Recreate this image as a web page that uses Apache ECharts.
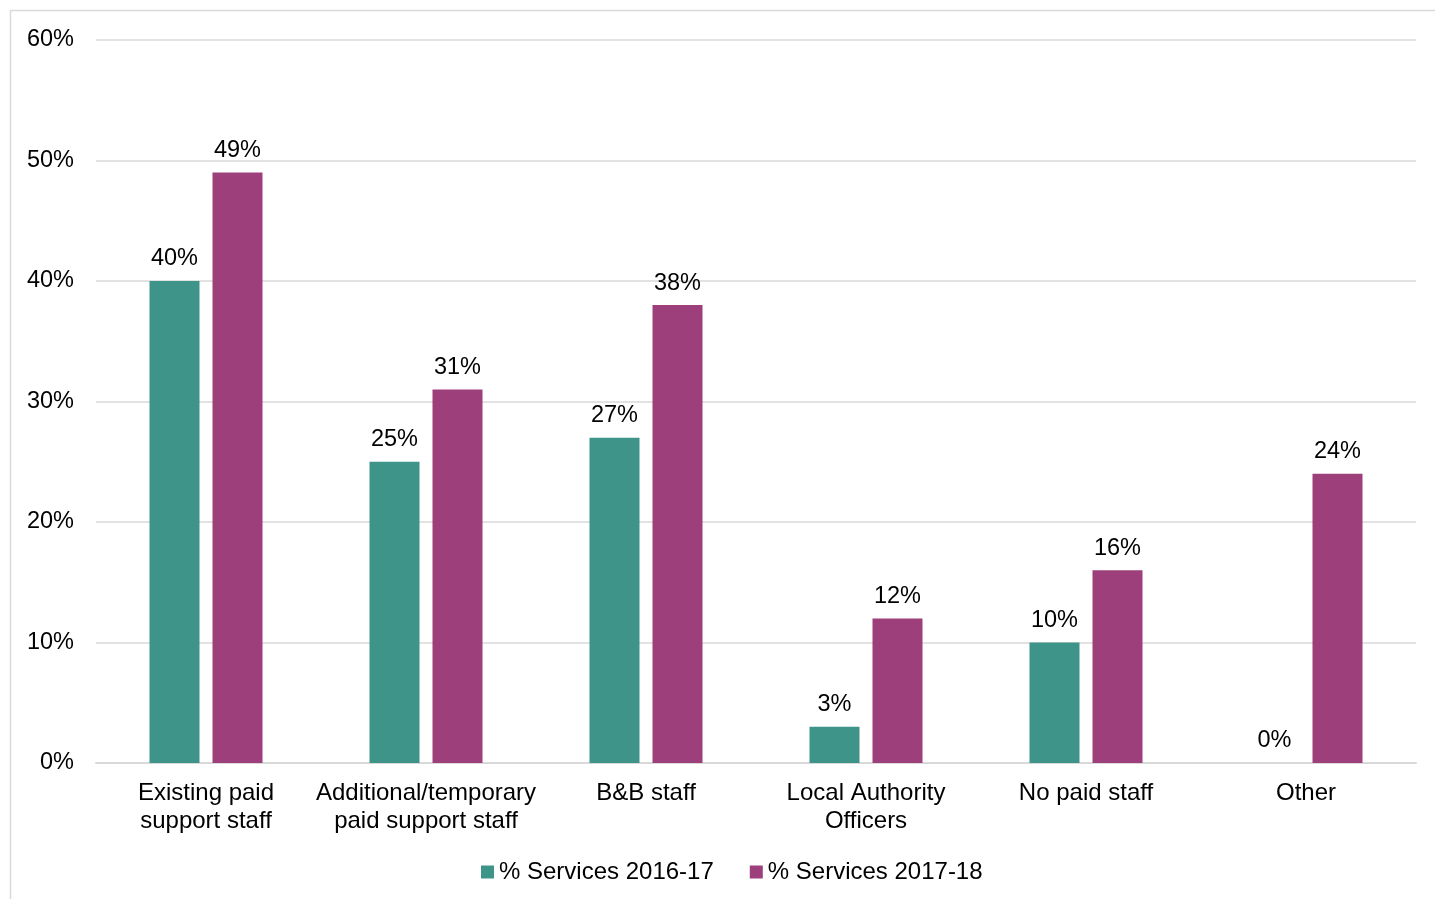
<!DOCTYPE html>
<html><head><meta charset="utf-8">
<script src="https://cdn.jsdelivr.net/npm/echarts@6/dist/echarts.min.js"></script>
<style>html,body{margin:0;padding:0;background:#fff}#c{width:1435px;height:899px}</style>
</head><body><div id="c"></div>
<script>
const categories = ["Existing paid\nsupport staff", "Additional/temporary\npaid support staff", "B&B staff", "Local Authority\nOfficers", "No paid staff", "Other"];
const series2016 = [40, 25, 27, 3, 10, 0];
const series2017 = [49, 31, 38, 12, 16, 24];
const yTicks = [0, 10, 20, 30, 40, 50, 60];
const seriesNames = ["% Services 2016-17", "% Services 2017-18"];

const font = "'Liberation Sans', Arial, sans-serif";
const chart = echarts.init(document.getElementById('c'));
const lbl = {show: true, position: 'top', distance: 10, formatter: p => p.value + '%', color: '#000', fontSize: 23.5, fontFamily: font};
chart.setOption({
  animation: false,
  textStyle: {fontFamily: font},
  graphic: [{type: 'rect', shape: {x: 10.5, y: 10.5, width: 1450, height: 920}, style: {fill: 'none', stroke: '#d9d9d9', lineWidth: 1.5}, silent: true}],
  grid: {left: 96, right: 19, top: 40, bottom: 136, containLabel: false},
  legend: {
    data: seriesNames, bottom: 10, left: 476, itemWidth: 13, itemHeight: 13, itemGap: 36,
    icon: 'rect', textStyle: {fontSize: 24, color: '#000', fontFamily: font, padding: [0, 0, 0, 0]}
  },
  xAxis: {
    type: 'category', data: categories,
    axisLine: {lineStyle: {color: '#d9d9d9', width: 2}}, axisTick: {show: false},
    axisLabel: {fontSize: 24, color: '#000', lineHeight: 28, margin: 16, interval: 0, fontFamily: font}
  },
  yAxis: {
    type: 'value', min: 0, max: 60, interval: 10,
    axisLabel: {formatter: v => yTicks.includes(v) ? v + '%' : '', fontSize: 23.5, color: '#000', margin: 22, fontFamily: font},
    splitLine: {lineStyle: {color: '#d9d9d9', width: 1.5}},
    axisLine: {show: false}, axisTick: {show: false}
  },
  series: [
    {name: seriesNames[0], type: 'bar', data: series2016, barWidth: 50, barGap: '26%', itemStyle: {color: '#3e9488'}, label: lbl},
    {name: seriesNames[1], type: 'bar', data: series2017, barWidth: 50, itemStyle: {color: '#9d3f7a'}, label: lbl}
  ]
});
</script></body></html>
